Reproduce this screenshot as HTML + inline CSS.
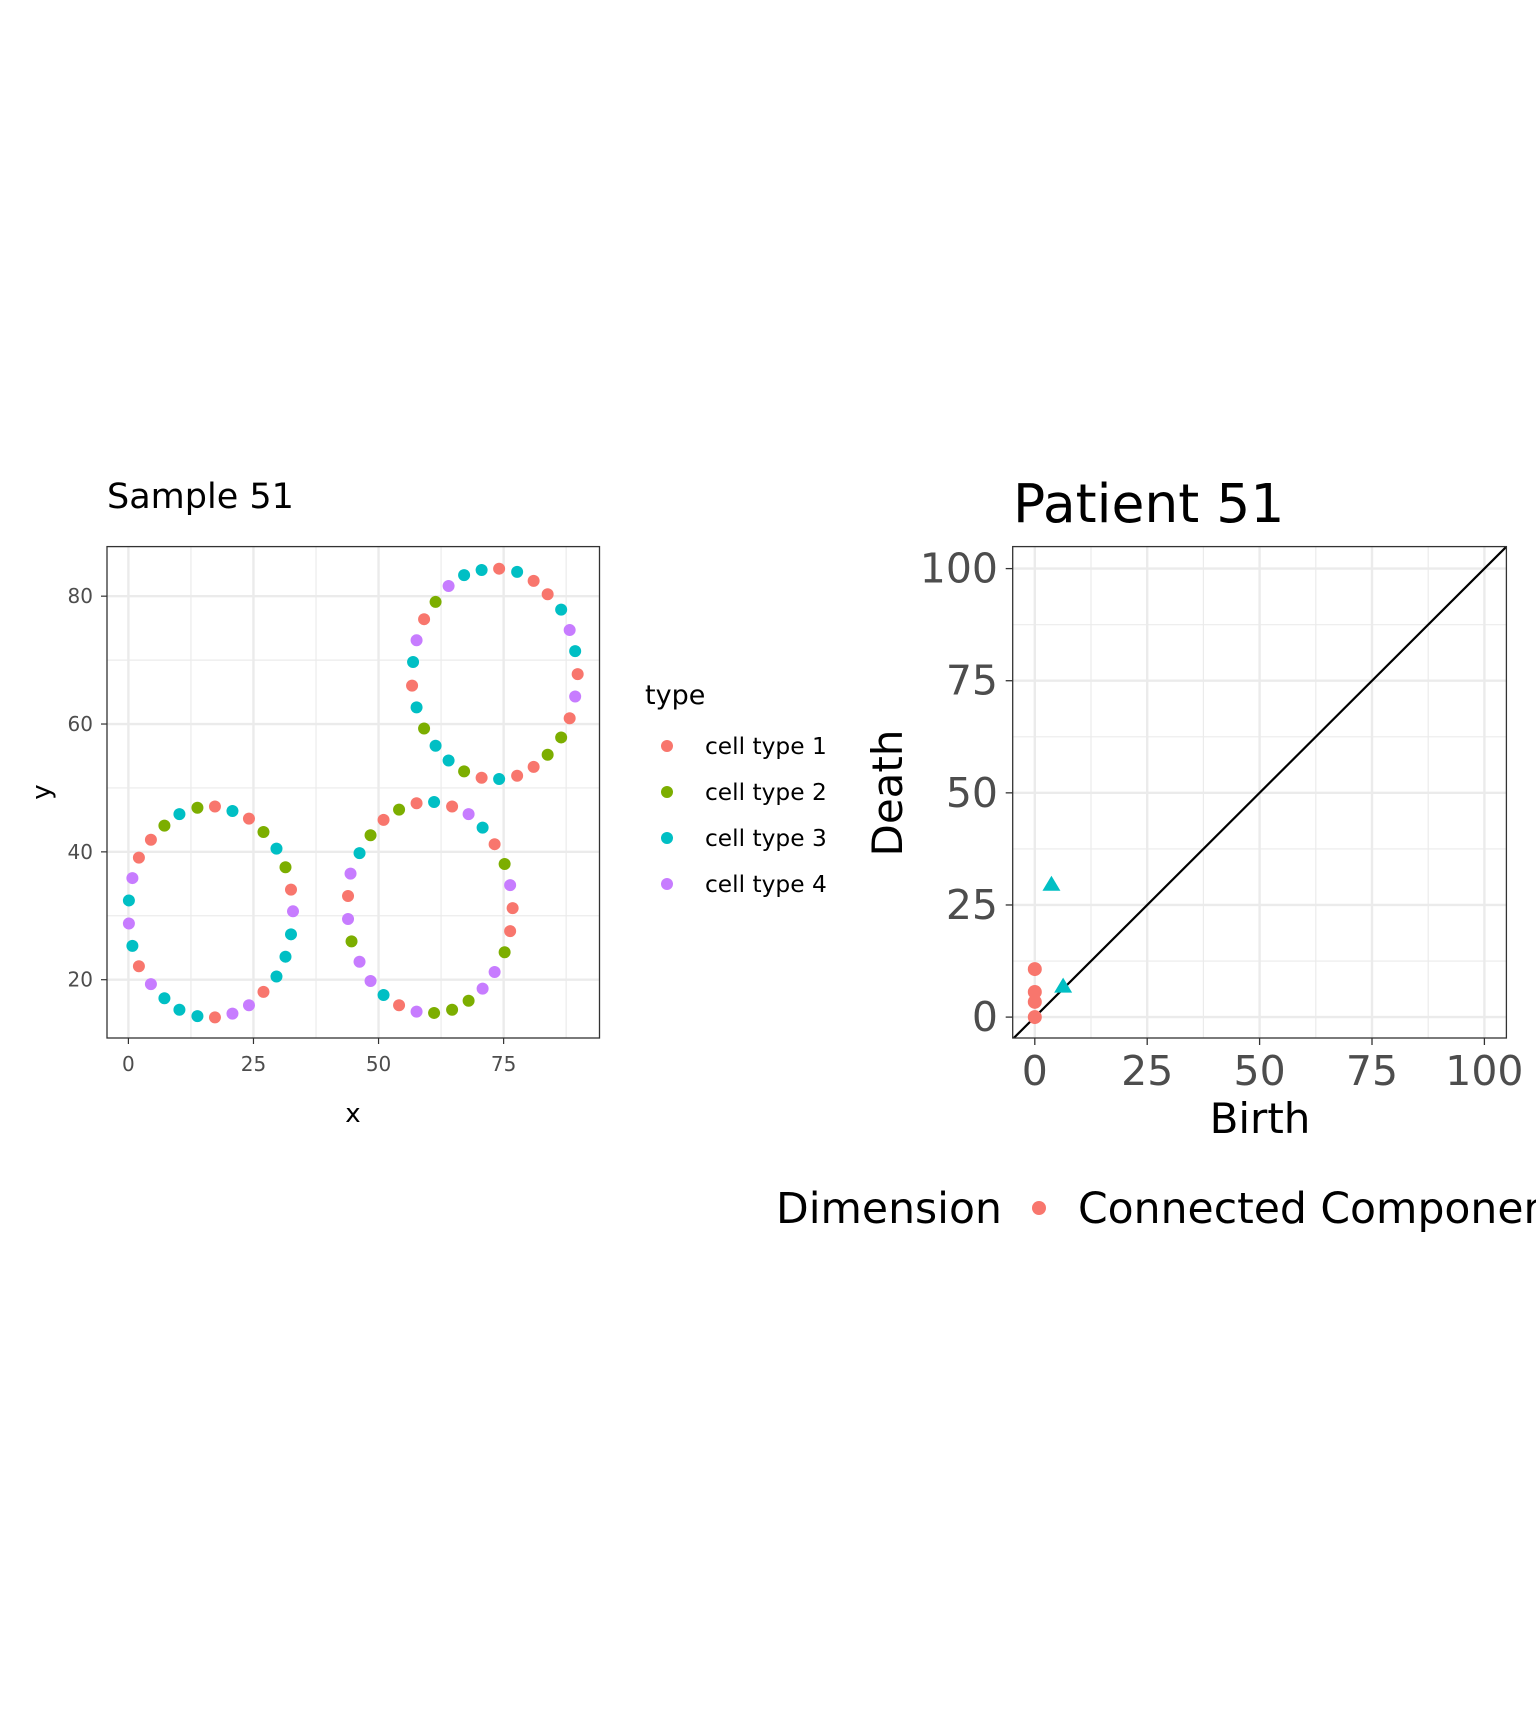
<!DOCTYPE html>
<html><head><meta charset="utf-8">
<style>
html,body{margin:0;padding:0;background:#fff;}
svg{display:block;font-family:"DejaVu Sans","Liberation Sans",sans-serif;}
</style></head>
<body>
<svg id="chart" width="1536" height="1728" viewBox="0 0 1536 1728" xmlns="http://www.w3.org/2000/svg">
<rect width="1536" height="1728" fill="#fff"/>
<g id="left"></g>
<g id="right"></g>
</svg>
<script>
// ---- Left chart data ----
const typeLabels = ["cell type 1","cell type 2","cell type 3","cell type 4"];
const typeColors = ["#F8766D","#7CAE00","#00BFC4","#C77CFF"];
const cellX = [0.1,0.1,0.8,2.1,4.5,7.2,10.2,13.8,17.3,20.8,24.1,27.0,29.6,31.4,32.5,32.9,32.5,31.4,29.6,27.0,24.1,20.8,17.3,13.8,10.2,7.2,4.5,2.1,0.8,
 43.9,44.4,46.2,48.4,51.0,54.1,57.6,61.1,64.7,68.0,70.8,73.2,75.2,76.3,76.8,76.3,75.2,73.2,70.8,68.0,64.7,61.1,57.6,54.1,51.0,48.4,46.2,44.6,43.9,
 56.7,56.9,57.6,59.1,61.4,64.0,67.1,70.6,74.1,77.7,81.0,83.8,86.5,88.2,89.3,89.8,89.3,88.2,86.5,83.8,81.0,77.7,74.1,70.6,67.1,64.0,61.4,59.1,57.6];
const cellY = [28.8,32.4,35.9,39.1,41.9,44.1,45.9,46.9,47.1,46.4,45.2,43.1,40.5,37.6,34.1,30.7,27.1,23.6,20.5,18.1,16.0,14.7,14.1,14.3,15.3,17.1,19.3,22.1,25.3,
 33.1,36.6,39.8,42.6,45.0,46.6,47.6,47.8,47.1,45.9,43.8,41.2,38.1,34.8,31.2,27.6,24.3,21.2,18.6,16.7,15.3,14.8,15.0,16.0,17.6,19.8,22.8,26.0,29.5,
 66.0,69.7,73.1,76.4,79.1,81.6,83.3,84.1,84.3,83.8,82.4,80.3,77.9,74.7,71.4,67.8,64.3,60.9,57.9,55.2,53.3,51.9,51.4,51.6,52.6,54.3,56.6,59.3,62.6];
const cellType = [3,2,3,0,0,1,2,1,0,2,0,1,2,1,0,3,2,2,2,0,3,3,0,2,2,2,3,0,2,
 0,3,2,1,0,1,0,2,0,3,2,0,1,3,0,0,1,3,3,1,1,1,3,0,2,3,3,1,3,
 0,2,3,0,1,3,2,2,0,2,0,0,2,3,2,0,3,0,1,1,0,0,2,0,1,2,2,1,2];
const leftXTicks = [0,25,50,75];
const leftYTicks = [20,40,60,80];
// ---- Right chart data ----
const dimLabels = ["Connected Components","Loops"];
const birthVals = [0,0,0,0,3.7,6.3];
const deathVals = [10.7,5.6,3.4,0,29.5,6.8];
const dimIdx = [0,0,0,0,1,1];
const rightTicks = [0,25,50,75,100];

const NS="http://www.w3.org/2000/svg";
function mk(parent,tag,attrs,text){const e=document.createElementNS(NS,tag);for(const k in attrs)e.setAttribute(k,attrs[k]);if(text!==undefined)e.textContent=text;parent.appendChild(e);return e;}

// ---------- LEFT ----------
const L=document.getElementById('left');
const lx=v=>128.4+v*5.003, ly=v=>979.7-(v-20)*6.392;
const LP={x0:107,x1:599.5,y0:546.6,y1:1038};
let t=mk(L,'text',{x:107,y:508,'font-size':35,fill:'#000'},'Sample 51');


for(let m of [12.5,37.5,62.5,87.5]){let l=mk(L,'line',{x1:lx(m),x2:lx(m),y1:LP.y0,y2:LP.y1,stroke:'#ebebeb','stroke-width':1.2});}
for(let m of [30,50,70]){let l=mk(L,'line',{y1:ly(m),y2:ly(m),x1:LP.x0,x2:LP.x1,stroke:'#ebebeb','stroke-width':1.2});}
for(let v of leftXTicks){let l=mk(L,'line',{x1:lx(v),x2:lx(v),y1:LP.y0,y2:LP.y1,stroke:'#ebebeb','stroke-width':2.4});
 let k=mk(L,'line',{x1:lx(v),x2:lx(v),y1:LP.y1,y2:LP.y1+6,stroke:'#333','stroke-width':1.2});
 let tl=mk(L,'text',{x:lx(v),y:1071,'font-size':20,fill:'#4d4d4d','text-anchor':'middle'},String(v));}
for(let v of leftYTicks){let l=mk(L,'line',{y1:ly(v),y2:ly(v),x1:LP.x0,x2:LP.x1,stroke:'#ebebeb','stroke-width':2.4});
 let k=mk(L,'line',{y1:ly(v),y2:ly(v),x1:LP.x0-6,x2:LP.x0,stroke:'#333','stroke-width':1.2});
 let tl=mk(L,'text',{x:93,y:ly(v)+7,'font-size':20,fill:'#4d4d4d','text-anchor':'end'},String(v));}
for(let i=0;i<cellX.length;i++){let c=mk(L,'circle',{cx:lx(cellX[i]),cy:ly(cellY[i]),r:6,fill:typeColors[cellType[i]]});
 
 }
let fr=mk(L,'rect',{x:LP.x0,y:LP.y0,width:LP.x1-LP.x0,height:LP.y1-LP.y0,fill:'none',stroke:'#333','stroke-width':1.3});

t=mk(L,'text',{x:353,y:1122,'font-size':26,'text-anchor':'middle'},'x');
t=mk(L,'text',{x:0,y:0,'font-size':26,'text-anchor':'middle',transform:'translate(50,792) rotate(-90)'},'y');
t=mk(L,'text',{x:645,y:704,'font-size':27},'type');
for(let i=0;i<4;i++){let y=746+i*46;
 let g=mk(L,'g',{});
 mk(g,'circle',{cx:667,cy:y,r:6,fill:typeColors[i]});
 mk(g,'text',{x:705,y:y+8,'font-size':23.3},typeLabels[i]);}

// ---------- RIGHT ----------
const R=document.getElementById('right');
const rx=v=>1034.8+v*4.496, ry=v=>1017.1-v*4.485;
const RP={x0:1012.7,x1:1506.4,y0:546.6,y1:1038};
t=mk(R,'text',{x:1013,y:522,'font-size':53.5},'Patient 51');
for(let m of [12.5,37.5,62.5,87.5]){let l=mk(R,'line',{x1:rx(m),x2:rx(m),y1:RP.y0,y2:RP.y1,stroke:'#ebebeb','stroke-width':1.2});
 l=mk(R,'line',{y1:ry(m),y2:ry(m),x1:RP.x0,x2:RP.x1,stroke:'#ebebeb','stroke-width':1.2});}
for(let v of rightTicks){
 let l=mk(R,'line',{x1:rx(v),x2:rx(v),y1:RP.y0,y2:RP.y1,stroke:'#ebebeb','stroke-width':2.4});
 l=mk(R,'line',{y1:ry(v),y2:ry(v),x1:RP.x0,x2:RP.x1,stroke:'#ebebeb','stroke-width':2.4});
 let k=mk(R,'line',{x1:rx(v),x2:rx(v),y1:RP.y1,y2:RP.y1+7,stroke:'#333','stroke-width':1.3});
 k=mk(R,'line',{y1:ry(v),y2:ry(v),x1:RP.x0-7,x2:RP.x0,stroke:'#333','stroke-width':1.3});
 let tl=mk(R,'text',{x:rx(v),y:1085,'font-size':41,fill:'#4d4d4d','text-anchor':'middle'},String(v));
 tl=mk(R,'text',{x:998,y:ry(v)+14,'font-size':41,fill:'#4d4d4d','text-anchor':'end'},String(v));}
mk(R,'clipPath',{id:'rclip'}).appendChild(document.createElementNS(NS,'rect'));
const cr=document.querySelector('#rclip rect');cr.setAttribute('x',RP.x0);cr.setAttribute('y',RP.y0);cr.setAttribute('width',RP.x1-RP.x0);cr.setAttribute('height',RP.y1-RP.y0);
let dl=mk(R,'line',{x1:rx(-10),y1:ry(-10),x2:rx(110),y2:ry(110),stroke:'#000','stroke-width':2.2,'clip-path':'url(#rclip)'});

const dimColors=["#F8766D","#00BFC4"];
for(let i=0;i<birthVals.length;i++){const cx=rx(birthVals[i]),cy=ry(deathVals[i]);let p;
 if(dimIdx[i]===0){p=mk(R,'circle',{cx:cx,cy:cy,r:7,fill:dimColors[0]});}
 else{p=mk(R,'polygon',{points:`${cx},${cy-9} ${cx+9},${cy+6} ${cx-9},${cy+6}`,fill:dimColors[1]});}
 
 }
fr=mk(R,'rect',{x:RP.x0,y:RP.y0,width:RP.x1-RP.x0,height:RP.y1-RP.y0,fill:'none',stroke:'#333','stroke-width':1.3});

t=mk(R,'text',{x:1260,y:1133,'font-size':42,'text-anchor':'middle'},'Birth');
t=mk(R,'text',{x:0,y:0,'font-size':42,'text-anchor':'middle',transform:'translate(902,793) rotate(-90)'},'Death');
t=mk(R,'text',{x:776,y:1223,'font-size':42.5},'Dimension');
let lg=mk(R,'g',{});
mk(lg,'circle',{cx:1039,cy:1208,r:7,fill:dimColors[0]});
mk(lg,'text',{x:1078,y:1223,'font-size':42.5},dimLabels[0]);
</script>
</body></html>
